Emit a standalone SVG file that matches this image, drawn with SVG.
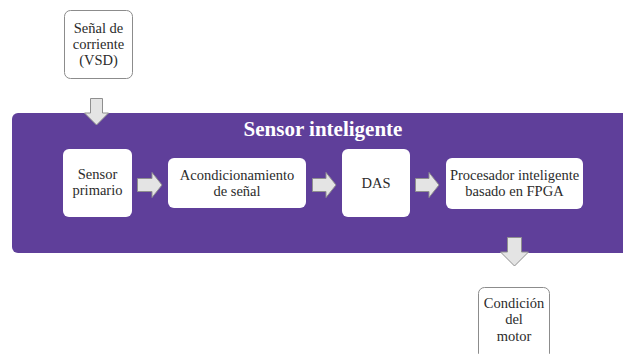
<svg xmlns="http://www.w3.org/2000/svg" width="623" height="354" viewBox="0 0 623 354">
  <style>
    .lbl { font-family: "Liberation Serif", "Times New Roman", serif; font-size: 14.5px; fill: #2b2b2b; text-anchor: middle; }
    .title { font-family: "Liberation Serif", "Times New Roman", serif; font-size: 21px; font-weight: bold; fill: #ffffff; text-anchor: middle; }
    .outer { fill: #ffffff; stroke: #8c8c8c; stroke-width: 1; }
    .inner { fill: #ffffff; stroke: none; }
    .arrow { fill: #e4e4e4; stroke: #8f8f8f; stroke-width: 1; stroke-linejoin: miter; }
  </style>
  <rect width="623" height="354" fill="#ffffff"/>

  <!-- container -->
  <g id="sensor-inteligente">
    <rect x="12" y="113" width="630" height="140" rx="6" fill="#5f3f9a"/>
    <text class="title" x="323" y="136">Sensor inteligente</text>
  </g>

  <!-- input and output -->
  <g id="senal-corriente">
    <rect class="outer" x="64.5" y="10.5" width="68" height="68" rx="6"/>
    <text class="lbl" x="98.5" y="33">Señal de</text>
    <text class="lbl" x="98.5" y="49">corriente</text>
    <text class="lbl" x="98.5" y="65">(VSD)</text>
  </g>
  <g id="condicion-motor">
    <rect class="outer" x="478.5" y="287.5" width="71" height="72" rx="6"/>
    <text class="lbl" x="514" y="308">Condición</text>
    <text class="lbl" x="514" y="324">del</text>
    <text class="lbl" x="514" y="341">motor</text>
  </g>

  <!-- processing stages -->
  <g id="sensor-primario">
    <rect class="inner" x="63" y="149" width="69" height="68" rx="6"/>
    <text class="lbl" x="97.5" y="179">Sensor</text>
    <text class="lbl" x="97.5" y="195">primario</text>
  </g>
  <g id="acondicionamiento">
    <rect class="inner" x="168" y="158" width="138" height="50" rx="6"/>
    <text class="lbl" x="237" y="180">Acondicionamiento</text>
    <text class="lbl" x="237" y="196">de señal</text>
  </g>
  <g id="das">
    <rect class="inner" x="342" y="149" width="68" height="68" rx="6"/>
    <text class="lbl" x="376" y="188">DAS</text>
  </g>
  <g id="procesador">
    <rect class="inner" x="446" y="158" width="137" height="51" rx="6"/>
    <text class="lbl" x="514.5" y="180">Procesador inteligente</text>
    <text class="lbl" x="514.5" y="196">basado en FPGA</text>
  </g>

  <!-- block arrows -->
  <g id="connectors">
    <polygon class="arrow" points="90.5,98.5 102.5,98.5 102.5,113 108.5,113 96.5,125 84.5,113 90.5,113"/>
    <polygon class="arrow" points="137.5,178.5 152,178.5 152,172.5 162,185 152,197.5 152,191.5 137.5,191.5"/>
    <polygon class="arrow" points="312.5,178.5 326,178.5 326,172.5 336,185 326,197.5 326,191.5 312.5,191.5"/>
    <polygon class="arrow" points="415.5,178.5 429,178.5 429,172.5 439,185 429,197.5 429,191.5 415.5,191.5"/>
    <polygon class="arrow" points="507.5,237.5 521.5,237.5 521.5,252 528.5,252 514.5,266 500.5,252 507.5,252"/>
  </g>
</svg>
